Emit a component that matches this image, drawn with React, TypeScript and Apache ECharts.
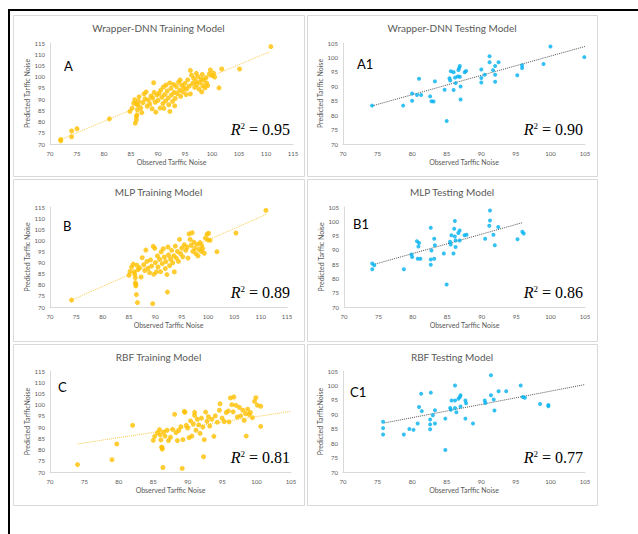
import React, { useEffect, useRef } from "react";
import * as echarts from "echarts";

// Observed vs predicted traffic noise, [observed, predicted] pairs per model
const trainA: number[][] = [
  [72.0, 72.0], [72.0, 71.4], [74.0, 75.8], [74.0, 73.2], [75.0, 76.8], [81.0, 81.2],
  [84.8, 84.5], [85.2, 86.0], [85.5, 88.2], [85.7, 89.7], [85.8, 79.3], [86.0, 80.8],
  [86.0, 82.2], [86.1, 83.0], [86.2, 85.2], [86.3, 87.4], [86.4, 89.0], [86.5, 91.0],
  [86.0, 87.8], [86.8, 86.0], [87.0, 84.0], [87.2, 88.5], [87.4, 92.3], [87.6, 90.1],
  [87.8, 93.2], [88.0, 86.8], [88.2, 89.6], [88.5, 87.8], [88.7, 91.4], [88.9, 85.7],
  [89.0, 90.5], [89.2, 97.3], [89.3, 93.0], [89.5, 88.6], [89.6, 84.2], [89.8, 91.8],
  [90.0, 89.4], [90.2, 92.6], [90.4, 86.0], [90.5, 94.0], [90.7, 90.8], [90.9, 88.0],
  [91.0, 95.4], [91.1, 85.9], [91.2, 92.0], [91.4, 89.2], [91.5, 96.3], [91.7, 93.6],
  [91.9, 90.5], [92.0, 87.5], [92.2, 84.5], [92.2, 97.2], [92.4, 94.8], [92.5, 91.8],
  [92.7, 89.0], [92.9, 96.5], [93.0, 93.0], [93.1, 87.0], [93.2, 90.3], [93.4, 95.6],
  [93.6, 92.4], [93.8, 97.5], [94.0, 94.0], [94.1, 98.5], [94.2, 91.2], [94.4, 96.2],
  [94.6, 93.2], [94.8, 95.0], [95.0, 97.0], [95.2, 92.0], [95.3, 94.5], [95.5, 98.6],
  [95.8, 95.8], [96.0, 92.3], [96.0, 102.8], [96.2, 100.7], [96.4, 97.0], [96.6, 99.3],
  [96.8, 95.2], [97.0, 98.0], [97.1, 101.5], [97.2, 96.5], [97.4, 100.0], [97.6, 94.5],
  [97.8, 97.5], [98.0, 99.0], [98.1, 93.2], [98.2, 101.0], [98.3, 96.0], [98.5, 98.5],
  [98.7, 95.0], [98.9, 99.6], [99.0, 97.2], [99.2, 96.0], [99.5, 101.2], [99.7, 103.0],
  [100.0, 100.5], [100.3, 101.6], [100.5, 99.8], [101.3, 95.0], [101.8, 103.4],
  [105.1, 103.4], [110.9, 113.4],
];

const testA1: number[][] = [
  [74.2, 83.3], [78.7, 83.3], [80.0, 87.5], [80.0, 85.0], [80.7, 87.0], [81.3, 87.0],
  [81.0, 92.6], [82.6, 86.5], [82.8, 84.8], [83.1, 84.7], [83.3, 91.7], [84.7, 88.8],
  [85.0, 78.0], [85.4, 92.8], [85.5, 92.0], [85.6, 95.2], [86.0, 94.9], [86.0, 88.7],
  [86.2, 93.0], [86.3, 91.1], [86.6, 93.4], [86.7, 95.6], [86.8, 96.3], [86.9, 97.0],
  [86.9, 93.3], [87.0, 89.9], [87.0, 85.4], [87.6, 94.9], [87.8, 95.3], [90.0, 95.8],
  [90.0, 92.9], [90.0, 91.3], [90.5, 94.0], [91.2, 100.4], [91.2, 98.3], [91.7, 95.6],
  [92.0, 97.0], [92.0, 94.0], [92.0, 91.6], [92.5, 98.3], [95.2, 93.8], [95.9, 97.3],
  [95.9, 96.3], [99.0, 97.7], [100.0, 103.8], [104.9, 100.1],
];

const trainB: number[][] = [
  [74.1, 73.1], [85.0, 84.3], [85.2, 86.0], [85.5, 88.0], [85.8, 89.3], [86.0, 85.8],
  [86.1, 84.7], [86.2, 83.2], [86.2, 81.0], [86.3, 80.2], [86.3, 79.5], [86.4, 75.6],
  [86.6, 72.0], [86.5, 88.8], [86.7, 86.8], [87.0, 87.6], [87.3, 83.5], [87.5, 92.2],
  [87.8, 89.0], [88.0, 86.4], [88.2, 95.6], [88.4, 90.5], [88.6, 87.4], [88.9, 85.5],
  [89.1, 91.2], [89.3, 88.4], [89.5, 71.5], [89.6, 97.3], [89.7, 84.7], [89.9, 96.4],
  [90.0, 90.0], [90.2, 85.8], [90.4, 93.0], [90.5, 88.0], [90.8, 91.5], [91.0, 85.9],
  [91.1, 94.8], [91.3, 89.5], [91.5, 96.2], [91.7, 92.5], [91.9, 87.3], [92.0, 90.4],
  [92.2, 84.6], [92.3, 76.7], [92.4, 97.0], [92.5, 93.4], [92.7, 88.6], [92.9, 91.5],
  [93.1, 95.5], [93.3, 89.9], [93.5, 93.0], [93.6, 85.8], [93.8, 97.4], [94.0, 92.0],
  [94.2, 95.0], [94.4, 90.5], [94.6, 100.4], [94.8, 94.0], [95.0, 96.5], [95.2, 92.6],
  [95.5, 98.0], [95.8, 95.5], [96.0, 97.0], [96.2, 92.0], [96.4, 102.9], [96.6, 100.4],
  [96.8, 97.8], [97.0, 103.4], [97.1, 95.0], [97.3, 99.2], [97.5, 96.3], [97.7, 94.0],
  [97.9, 98.2], [98.1, 93.0], [98.3, 96.0], [98.5, 99.0], [98.7, 95.0], [98.8, 97.7],
  [99.0, 96.3], [99.3, 94.2], [99.5, 101.0], [99.8, 102.7], [100.0, 100.2], [100.4, 100.0],
  [100.1, 103.2], [101.7, 94.9], [105.3, 103.3], [111.0, 113.5],
];

const testB1: number[][] = [
  [74.1, 85.2], [74.4, 84.6], [74.1, 83.2], [78.7, 83.2], [79.8, 88.4], [79.9, 87.5],
  [80.6, 93.0], [80.9, 92.4], [80.8, 91.2], [80.7, 86.9], [81.1, 86.9], [82.6, 97.7],
  [82.6, 86.6], [82.6, 84.8], [82.7, 89.8], [83.1, 93.9], [83.2, 91.6], [83.1, 86.9],
  [84.5, 88.7], [84.9, 77.9], [85.4, 92.8], [85.5, 91.9], [85.6, 95.1], [85.9, 88.7],
  [86.0, 97.4], [86.1, 100.1], [86.1, 94.7], [86.2, 91.0], [86.2, 93.3], [86.6, 95.9],
  [86.8, 96.8], [86.8, 93.3], [87.5, 95.1], [87.8, 95.3], [90.5, 93.9], [91.2, 103.8],
  [91.2, 100.3], [91.1, 98.4], [91.7, 95.3], [91.9, 91.6], [92.4, 98.0], [95.2, 93.7],
  [95.9, 96.3], [96.1, 95.7],
];

const trainC: number[][] = [
  [74.0, 73.3], [79.0, 75.5], [79.7, 82.5], [82.0, 90.8], [85.0, 84.1], [85.2, 85.9],
  [85.6, 87.5], [85.9, 88.9], [86.0, 86.6], [86.1, 84.3], [86.2, 81.1], [86.3, 80.2],
  [86.3, 80.8], [86.4, 72.0], [86.5, 87.8], [86.7, 86.0], [87.0, 88.6], [87.2, 84.0],
  [87.5, 85.5], [87.8, 89.0], [88.1, 95.7], [88.3, 87.6], [88.5, 84.0], [88.7, 88.5],
  [89.0, 90.2], [89.2, 71.6], [89.3, 84.4], [89.5, 97.0], [89.6, 96.6], [89.8, 90.8],
  [90.0, 89.6], [90.2, 85.3], [90.4, 92.8], [90.6, 86.0], [90.8, 91.5], [91.0, 96.6],
  [91.0, 95.2], [91.2, 88.6], [91.4, 93.5], [91.6, 91.0], [91.8, 87.2], [92.0, 94.0],
  [92.2, 90.0], [92.3, 76.8], [92.4, 84.4], [92.6, 96.7], [92.8, 92.6], [93.0, 94.6],
  [93.2, 90.5], [93.5, 93.5], [93.8, 85.9], [94.0, 95.0], [94.3, 92.2], [94.6, 97.5],
  [94.7, 100.4], [95.0, 94.0], [95.3, 92.5], [95.6, 96.5], [95.9, 97.2], [96.0, 92.3],
  [96.2, 103.0], [96.4, 100.0], [96.6, 96.8], [96.7, 103.4], [97.0, 99.7], [97.2, 94.5],
  [97.5, 98.8], [97.7, 95.0], [98.0, 97.5], [98.2, 93.0], [98.4, 96.0], [98.5, 86.0],
  [98.7, 98.0], [98.9, 95.6], [99.1, 96.5], [99.4, 94.2], [99.7, 101.5], [99.9, 103.1],
  [100.1, 99.8], [100.6, 99.3], [100.6, 90.3],
];

const testC1: number[][] = [
  [75.8, 87.4], [75.8, 85.2], [75.8, 83.0], [78.8, 83.0], [79.6, 84.9], [80.2, 84.6],
  [80.8, 86.8], [81.0, 92.5], [81.4, 91.1], [81.3, 97.1], [82.7, 97.5], [82.6, 88.2],
  [82.6, 86.5], [82.6, 84.8], [83.0, 89.7], [83.3, 86.8], [83.3, 91.4], [84.8, 88.5],
  [84.8, 77.6], [85.5, 92.2], [85.6, 91.6], [85.7, 94.8], [86.2, 94.8], [86.2, 100.0],
  [86.2, 92.2], [86.4, 90.7], [86.7, 95.4], [86.9, 96.0], [87.0, 96.6], [87.0, 92.7],
  [87.7, 94.8], [87.8, 93.8], [87.7, 88.5], [88.8, 86.8], [90.5, 94.8], [90.6, 93.9],
  [91.4, 96.6], [91.4, 103.5], [91.8, 95.1], [91.9, 91.3], [92.5, 98.0], [93.6, 98.0],
  [95.7, 100.0], [96.0, 96.0], [96.3, 95.7], [98.5, 93.6], [99.7, 93.2], [99.7, 92.8],
];

// Linear trendlines, start and end points
const trendA: number[][] = [[71.5, 71.5], [110.6, 111.0]];
const trendA1: number[][] = [[74.2, 83.2], [105.0, 103.8]];
const trendB: number[][] = [[74.0, 73.0], [111.2, 111.8]];
const trendB1: number[][] = [[74.2, 84.8], [95.9, 99.5]];
const trendC: number[][] = [[74.0, 82.5], [105.0, 97.0]];
const trendC1: number[][] = [[76.0, 87.0], [105.0, 100.3]];

const panelTitles = [
  "Wrapper-DNN Training Model",
  "Wrapper-DNN Testing Model",
  "MLP Training Model",
  "MLP Testing Model",
  "RBF Training Model",
  "RBF Testing Model",
];
const panelTags = ["A", "A1", "B", "B1", "C", "C1"];
const rSquared = [0.95, 0.9, 0.89, 0.86, 0.81, 0.77];
const xMax = [115, 105, 115, 105, 105, 105];
const yMax = [115, 105, 115, 105, 115, 105];
const yNames = [
  "Predicted Tarffic Noise",
  "Predicted Tarffic Noise",
  "Predicted Tarffic Noise",
  "Predicted Tarffic Noise",
  "Predicted TarfficNoise",
  "Predicted TarfficNoise",
];
const xName = "Observed Tarffic Noise";

const points = [trainA, testA1, trainB, testB1, trainC, testC1];
const trends = [trendA, trendA1, trendB, trendB1, trendC, trendC1];

// Layout of the six panels
const boxes = [
  { x: 13, y: 15, w: 291, h: 161 },
  { x: 307, y: 15, w: 290, h: 161 },
  { x: 13, y: 179, w: 291, h: 162 },
  { x: 307, y: 179, w: 290, h: 162 },
  { x: 13, y: 344, w: 291, h: 161 },
  { x: 307, y: 344, w: 290, h: 161 },
];
const grids = [
  { left: 50, top: 43, width: 243, height: 101 },
  { left: 343, top: 43, width: 242, height: 101 },
  { left: 50, top: 207, width: 237, height: 100 },
  { left: 344, top: 207, width: 241, height: 100 },
  { left: 50, top: 371, width: 241, height: 101 },
  { left: 343, top: 371, width: 242, height: 101 },
];
const tagPos = [
  [64, 66], [357, 64], [63, 226], [353, 224], [58, 387], [350, 392],
];

const SANS = "Lato, 'Open Sans', sans-serif";
const SERIF = "'Liberation Serif', 'DejaVu Serif', serif";
const TRAIN = "#FFC000";
const TEST = "#00B0F0";
const GREY = "#595959";

export default function App() {
  const ref = useRef<HTMLDivElement>(null);

  useEffect(() => {
    if (!ref.current) return;
    const chart = echarts.init(ref.current, undefined, { renderer: "svg" });

    const xAxis = grids.map((_, i) => ({
      gridIndex: i,
      type: "value",
      min: 70,
      max: xMax[i],
      interval: 5,
      name: xName,
      nameLocation: "middle",
      nameGap: 14,
      nameTextStyle: { color: GREY, fontSize: 7, fontFamily: SANS },
      axisLine: { show: true, lineStyle: { color: "#d9d9d9", width: 1 } },
      axisTick: { show: false },
      splitLine: { show: false },
      axisLabel: { color: GREY, fontSize: 6, fontFamily: SANS, margin: 6 },
    }));

    const yAxis = grids.map((_, i) => ({
      gridIndex: i,
      type: "value",
      min: 70,
      max: yMax[i],
      interval: 5,
      name: yNames[i],
      nameLocation: "middle",
      nameGap: 18,
      nameRotate: 90,
      nameTextStyle: { color: GREY, fontSize: 7, fontFamily: SANS },
      axisLine: { show: true, lineStyle: { color: "#d9d9d9", width: 1 } },
      axisTick: { show: false },
      splitLine: { show: false },
      axisLabel: { color: GREY, fontSize: 6, fontFamily: SANS, margin: 5 },
    }));

    const series: any[] = [];
    points.forEach((pts, i) => {
      const training = i % 2 === 0;
      series.push({
        type: "scatter",
        xAxisIndex: i,
        yAxisIndex: i,
        data: pts,
        symbolSize: training ? 5 : 4,
        itemStyle: { color: training ? TRAIN : TEST },
        z: 3,
      });
      series.push({
        type: "line",
        xAxisIndex: i,
        yAxisIndex: i,
        data: trends[i],
        symbol: "none",
        lineStyle: {
          color: training ? "#F7C84A" : "#555555",
          width: 1,
          type: "dotted",
        },
        z: 2,
      });
    });

    const graphic: any[] = [
      // outer frame
      { type: "rect", shape: { x: 8, y: 9, width: 630, height: 2 }, style: { fill: "#000" } },
      { type: "rect", shape: { x: 8, y: 9, width: 2, height: 525 }, style: { fill: "#000" } },
    ];
    boxes.forEach((b, i) => {
      graphic.push({
        type: "rect",
        shape: { x: b.x + 0.5, y: b.y + 0.5, width: b.w, height: b.h },
        style: { fill: "#fff", stroke: "#d9d9d9", lineWidth: 1 },
        z: -10,
      });
      graphic.push({
        type: "text",
        x: b.x + b.w / 2,
        y: b.y + 13,
        style: {
          text: panelTitles[i],
          fill: GREY,
          fontSize: 10,
          fontFamily: SANS,
          align: "center",
          verticalAlign: "middle",
        },
      });
      graphic.push({
        type: "text",
        x: tagPos[i][0],
        y: tagPos[i][1],
        style: {
          text: panelTags[i],
          fill: "#000",
          fontSize: 13,
          fontFamily: SANS,
          align: "left",
          verticalAlign: "middle",
        },
      });
      const g = grids[i];
      graphic.push({
        type: "text",
        x: b.x + b.w - 14,
        y: g.top + g.height - 16,
        style: {
          text: `{r|R}{s|2}{n| = ${rSquared[i].toFixed(2)}}`,
          align: "right",
          verticalAlign: "middle",
          rich: {
            r: { fontFamily: SERIF, fontStyle: "italic", fontSize: 16, fill: "#000", verticalAlign: "bottom", lineHeight: 18 },
            s: { fontFamily: SERIF, fontSize: 9, fill: "#000", verticalAlign: "top", lineHeight: 12, padding: [2, 0, 0, 0] },
            n: { fontFamily: SERIF, fontSize: 16, fill: "#000", verticalAlign: "bottom", lineHeight: 18 },
          },
        },
      });
    });

    chart.setOption({
      animation: false,
      backgroundColor: "#fff",
      grid: grids.map((g) => ({ ...g, containLabel: false })),
      xAxis,
      yAxis,
      series,
      graphic,
    });

    return () => chart.dispose();
  }, []);

  return (
    <div
      ref={ref}
      style={{ position: "absolute", left: 0, top: 0, width: 638, height: 534, background: "#fff" }}
    />
  );
}
